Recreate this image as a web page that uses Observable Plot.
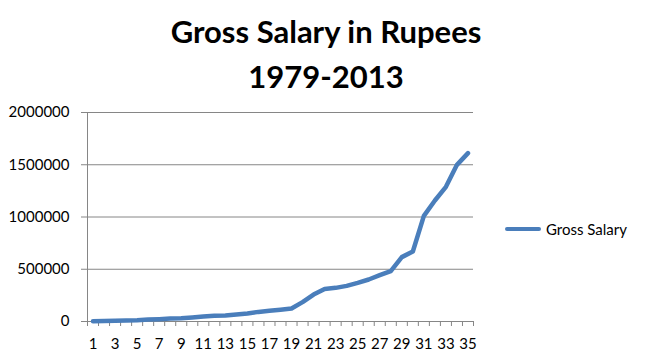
<!DOCTYPE html>
<html>
<head>
<meta charset="utf-8">
<script src="https://cdn.jsdelivr.net/npm/d3@7"></script>
<script src="https://cdn.jsdelivr.net/npm/@observablehq/plot@0.6"></script>
<style>
  html, body { margin: 0; padding: 0; background: #fff; }
  #wrap { position: relative; width: 646px; height: 362px; overflow: hidden; font-family: Lato, "Open Sans", sans-serif; color: #000; }
  #title { position: absolute; left: 0; top: 9px; width: 652px; text-align: center; font-weight: bold; font-size: 31px; line-height: 45px; }
  #chart { position: absolute; left: 0; top: 100px; }
  #legend { position: absolute; left: 505px; top: 219px; display: flex; align-items: center; font-size: 15px; height: 20px; }
  #legend .sw { width: 36px; height: 4px; background: #4a7ebb; margin-right: 5px; border-radius: 2px; }
</style>
</head>
<body>
<div id="wrap">
  <div id="title">Gross Salary in Rupees<br>1979-2013</div>
  <div id="chart"></div>
  <div id="legend"><span class="sw"></span><span>Gross Salary</span></div>
</div>
<script>
const period = [1,2,3,4,5,6,7,8,9,10,11,12,13,14,15,16,17,18,19,20,21,22,23,24,25,26,27,28,29,30,31,32,33,34,35];
const grossSalary = [3000,4000,6000,9000,12000,18000,22000,28000,31000,38000,47000,54000,57000,66000,76000,92000,102000,112000,124000,185000,258000,312000,322000,341000,370000,402000,443000,482000,616000,670000,1011000,1158000,1289000,1499000,1611000];
const yTicks = [0,500000,1000000,1500000,2000000];
const xTickLabels = [1,3,5,7,9,11,13,15,17,19,21,23,25,27,29,31,33,35];
const seriesName = "Gross Salary";

const data = period.map((p, i) => ({period: p, value: grossSalary[i], series: seriesName}));
const boundaries = [0, ...period].map(p => p + 0.5);
const gray = "#868686";

const chart = Plot.plot({
  width: 646,
  height: 262,
  marginLeft: 87,
  marginRight: 173,
  marginTop: 12,
  marginBottom: 41,
  style: {fontFamily: "Lato, 'Open Sans', sans-serif", fontSize: "15px", color: "#000", background: "#fff"},
  x: {type: "linear", domain: [0.5, 35.5]},
  y: {domain: [0, 2000000]},
  marks: [
    Plot.gridY(yTicks, {stroke: gray, strokeOpacity: 1, strokeWidth: 1}),
    Plot.axisY(yTicks, {tickSize: 6, tickPadding: 12, stroke: gray, tickFormat: d => String(d), label: null, fontSize: 15}),
    Plot.ruleX([0.5], {stroke: gray}),
    Plot.ruleY([0], {stroke: gray}),
    Plot.axisX(boundaries, {tickSize: 5, stroke: gray, tickFormat: () => "", label: null}),
    Plot.axisX(xTickLabels, {tickSize: 0, tickPadding: 17, tickFormat: d => String(d), label: null, fontSize: 15}),
    Plot.lineY(data, {x: "period", y: "value", stroke: "#4a7ebb", strokeWidth: 4.5, strokeLinejoin: "round", strokeLinecap: "round"})
  ]
});
document.getElementById("chart").appendChild(chart);
</script>
</body>
</html>
